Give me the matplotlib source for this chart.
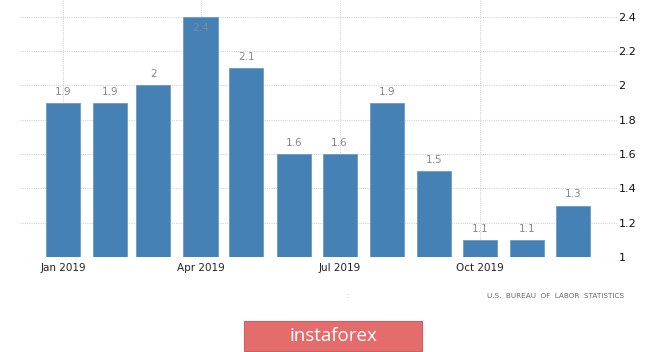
import datetime as dt

import matplotlib.dates as mdates
import matplotlib.pyplot as plt
from matplotlib.patches import FancyBboxPatch

months = [dt.date(2019, m, 1) for m in range(1, 13)]
values = [1.9, 1.9, 2.0, 2.4, 2.1, 1.6, 1.6, 1.9, 1.5, 1.1, 1.1, 1.3]
value_labels = ["1.9", "1.9", "2", "2.4", "2.1", "1.6", "1.6", "1.9", "1.5", "1.1", "1.1", "1.3"]
x_ticks = [dt.date(2019, 1, 1), dt.date(2019, 4, 1), dt.date(2019, 7, 1), dt.date(2019, 10, 1)]
x_tick_labels = ["Jan 2019", "Apr 2019", "Jul 2019", "Oct 2019"]
y_ticks = [1, 1.2, 1.4, 1.6, 1.8, 2, 2.2, 2.4]
y_tick_labels = ["1", "1.2", "1.4", "1.6", "1.8", "2", "2.2", "2.4"]

figure = plt.figure(figsize=(6.65, 3.52), dpi=100)
axis = figure.add_axes([0.030, 0.270, 0.898, 0.730])

x = mdates.date2num(months)
axis.bar(x, [v - 1 for v in values], bottom=1, width=22.3, color="#4581b5",
         edgecolor="#6a9cc8", linewidth=0.6, zorder=2)

# Etiquetas de valor: encima de la barra, salvo la que toca el borde superior.
for xi, v, label in zip(x, values, value_labels):
    if v >= 2.4:
        axis.annotate(label, (xi, v), xytext=(0, -8), textcoords="offset points",
                      ha="center", va="center", fontsize=7.5, color="#7a8a99", zorder=3)
    else:
        axis.annotate(label, (xi, v), xytext=(0, 8), textcoords="offset points",
                      ha="center", va="center", fontsize=7.5, color="#8a8a8a", zorder=3)

axis.set_xlim(mdates.date2num(dt.date(2019, 1, 1)) - 28.2,
              mdates.date2num(dt.date(2019, 10, 1)) + 89.7)
axis.set_ylim(1, 2.4986)

axis.set_xticks(mdates.date2num(x_ticks))
axis.set_xticklabels(x_tick_labels, fontsize=7.5, color="#222222")
axis.set_yticks(y_ticks)
axis.set_yticklabels(y_tick_labels, fontsize=8, color="#111111")
axis.yaxis.tick_right()
axis.tick_params(axis="both", length=0)
axis.tick_params(axis="x", pad=4)
axis.tick_params(axis="y", pad=1)

axis.grid(True, linestyle=(0, (1, 1)), color="#d4d4d4", linewidth=0.8, zorder=0)
axis.set_axisbelow(True)
for spine in axis.spines.values():
    spine.set_visible(False)

figure.text(0.938, 0.160, "U.S.  BUREAU  OF  LABOR  STATISTICS", ha="right", va="center",
            fontsize=5.2, color="#666666")
figure.text(0.523, 0.160, ":", ha="center", va="center", fontsize=5, color="#f0a060")

box = FancyBboxPatch((244 / 665, 1 - 351 / 352), 178 / 665, 30 / 352,
                     boxstyle="square,pad=0", transform=figure.transFigure,
                     facecolor="#e46c6c", edgecolor="#d06060", linewidth=0.8)
figure.add_artist(box)
figure.text(333 / 665, 1 - 336 / 352, "instaforex", ha="center", va="center",
            fontsize=13.5, color="white", family="Open Sans")

figure.savefig("out.png", dpi=100)
plt.close(figure)
